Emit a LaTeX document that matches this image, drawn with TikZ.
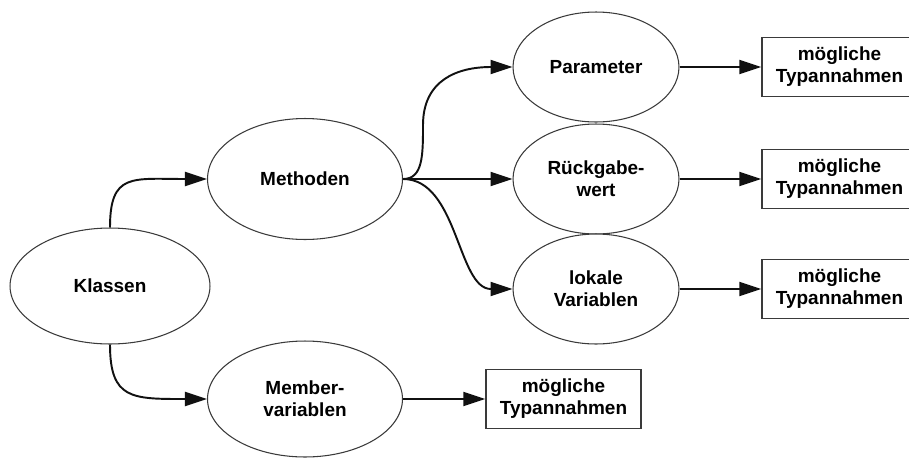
\documentclass[tikz,border=0pt]{standalone}
\usepackage{fontspec}
\setmainfont{Liberation Sans}
\usetikzlibrary{arrows.meta,shapes.geometric}
\definecolor{nodestroke}{HTML}{3A3A3A}
\definecolor{edgestroke}{HTML}{111111}
\tikzset{
  concept/.style={
    ellipse, draw=nodestroke, fill=white, line width=0.6pt,
    inner sep=0pt, align=center,
    font=\fontsize{10.8}{12.5}\selectfont\bfseries
  },
  typebox/.style={
    rectangle, draw=nodestroke, fill=white, line width=0.8pt,
    minimum width=3.1cm, minimum height=1.18cm, inner sep=0pt, align=center,
    font=\fontsize{10.8}{12.5}\selectfont\bfseries
  },
  link/.style={
    -{Triangle[length=4.4mm,width=2.8mm]}, draw=edgestroke, line width=1.1pt
  }
}
\begin{document}
\begin{tikzpicture}[x=0.02cm,y=-0.02cm]
  \useasboundingbox (0,0) rectangle (909,457);
  \node[concept, minimum width=4cm, minimum height=2.32cm] (klassen) at (110,286) {Klassen};
  \node[concept, minimum width=3.9cm, minimum height=2.42cm] (methoden) at (305,179) {Methoden};
  \node[concept, minimum width=3.9cm, minimum height=2.32cm] (member) at (305,399) {Member-\\variablen};
  \node[concept, minimum width=3.32cm, minimum height=2.2cm] (param) at (596,67) {Parameter};
  \node[concept, minimum width=3.32cm, minimum height=2.2cm] (rueck) at (596,179) {Rückgabe-\\wert};
  \node[concept, minimum width=3.32cm, minimum height=2.2cm] (lokal) at (596,289) {lokale\\Variablen};
  \node[typebox] (tparam) at (839.5,67) {mögliche\\Typannahmen};
  \node[typebox] (trueck) at (839.5,179) {mögliche\\Typannahmen};
  \node[typebox] (tlokal) at (839.5,289) {mögliche\\Typannahmen};
  \node[typebox] (tmember) at (563.5,399) {mögliche\\Typannahmen};
  \coordinate (upbend) at (423,125);

  % Klassen splits into methods and member variables
  \draw[link] (klassen.north) .. controls +(0,-55) and +(-75,0) .. (methoden.west);
  \draw[link] (klassen.south) .. controls +(0,55) and +(-75,0) .. (member.west);

  % method parts
  \draw[link] (methoden.east) .. controls +(20,0) and +(0,30) .. (upbend)
    .. controls +(0,-45) and +(-55,0) .. (param.west);
  \draw[link] (methoden.east) -- (rueck.west);
  \draw[link] (methoden.east) .. controls +(55,0) and +(-55,0) .. (lokal.west);

  % type assumptions
  \draw[link] (param.east) -- (tparam.west);
  \draw[link] (rueck.east) -- (trueck.west);
  \draw[link] (lokal.east) -- (tlokal.west);
  \draw[link] (member.east) -- (tmember.west);
\end{tikzpicture}
\end{document}
